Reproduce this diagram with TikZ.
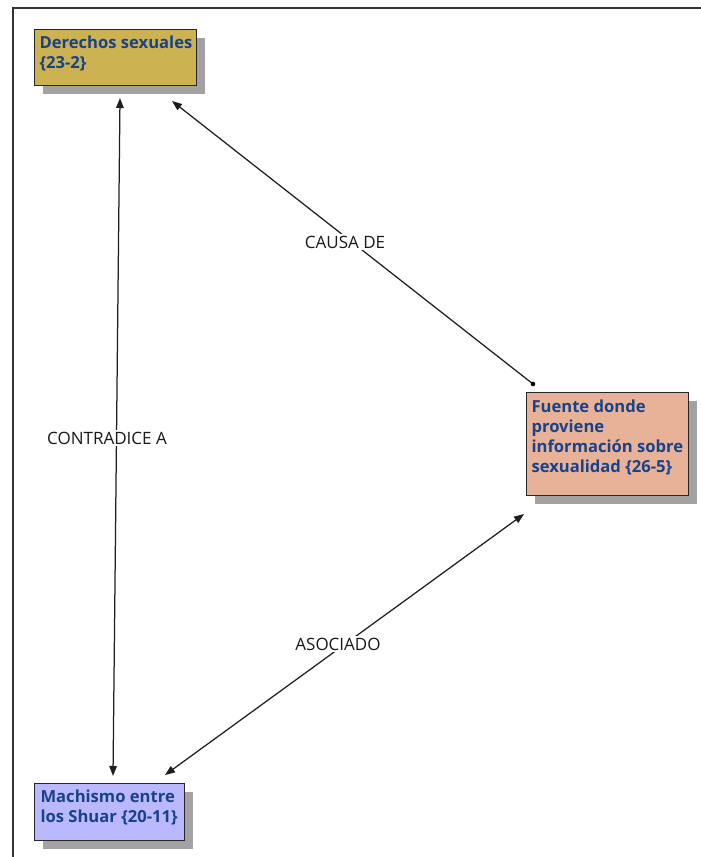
\documentclass[tikz,border=0pt]{standalone}
\usepackage{fontspec}
\setmainfont{Open Sans}
\usetikzlibrary{arrows.meta,shadows}
\definecolor{dergold}{RGB}{205,178,82}
\definecolor{fuenteor}{RGB}{232,178,152}
\definecolor{machblue}{RGB}{186,184,255}
\definecolor{txtblue}{RGB}{24,66,138}
\definecolor{shadowgray}{RGB}{162,162,162}
\tikzset{
  concept/.style={draw=black!85, line width=1.1pt, anchor=north west, align=left,
    inner xsep=0pt, inner ysep=0pt, text=txtblue,
    font=\fontsize{16.6}{20}\selectfont\bfseries,
    general shadow={fill=shadowgray, shadow xshift=8pt, shadow yshift=-8pt}},
  rel/.style={line width=1.25pt, draw=black!88},
  tip/.style={-{Triangle[length=10pt,width=7.5pt]}},
  tips/.style={{Triangle[length=10pt,width=7.5pt]}-{Triangle[length=10pt,width=7.5pt]}},
  lbl/.style={fill=white, inner sep=2pt, font=\fontsize{17}{18}\selectfont, text=black!90}
}
\begin{document}
\begin{tikzpicture}[x=1pt,y=-1pt]
\useasboundingbox (0,0) rectangle (701,857);
\fill[white] (0,0) rectangle (701,857);
\draw[black!80, line width=1.2pt] (13,857) -- (13,8) -- (701,8);

\node[concept, fill=dergold, minimum width=162pt, minimum height=56pt] (der) at (34,29)
  {\begin{minipage}[t][56pt][t]{160pt}\vspace{6.5pt}\hspace*{4pt}Derechos sexuales\\\hspace*{4pt}\{23-2\}\end{minipage}};
\node[concept, fill=fuenteor, minimum width=162pt, minimum height=103pt] (fue) at (526,392)
  {\begin{minipage}[t][103pt][t]{160pt}\vspace{7.5pt}\hspace*{4pt}Fuente donde\\\hspace*{4pt}proviene\\\hspace*{4pt}información sobre\\\hspace*{4pt}sexualidad \{26-5\}\end{minipage}};
\node[concept, fill=machblue, minimum width=150pt, minimum height=57pt] (mac) at (34,783)
  {\begin{minipage}[t][57pt][t]{148pt}\vspace{6.5pt}\hspace*{5pt}Machismo entre\\\hspace*{5pt}los Shuar \{20-11\}\end{minipage}};

\coordinate (d1) at (120,98);
\coordinate (m1) at (113,776);
\coordinate (d2) at (172,101);
\coordinate (f1) at (533,384);
\coordinate (f2) at (524,514);
\coordinate (m2) at (165,775);

\draw[rel, tips] (d1) -- (m1);
\draw[rel, tip] (f1) -- (d2);
\fill[black] (f1) circle (2.3pt);
\draw[rel, tips] (f2) -- (m2);
\node[lbl] (l1) at (107,438) {CONTRADICE A};
\node[lbl] (l2) at (345,242) {CAUSA DE};
\node[lbl] (l3) at (338,644) {ASOCIADO};
\end{tikzpicture}
\end{document}
